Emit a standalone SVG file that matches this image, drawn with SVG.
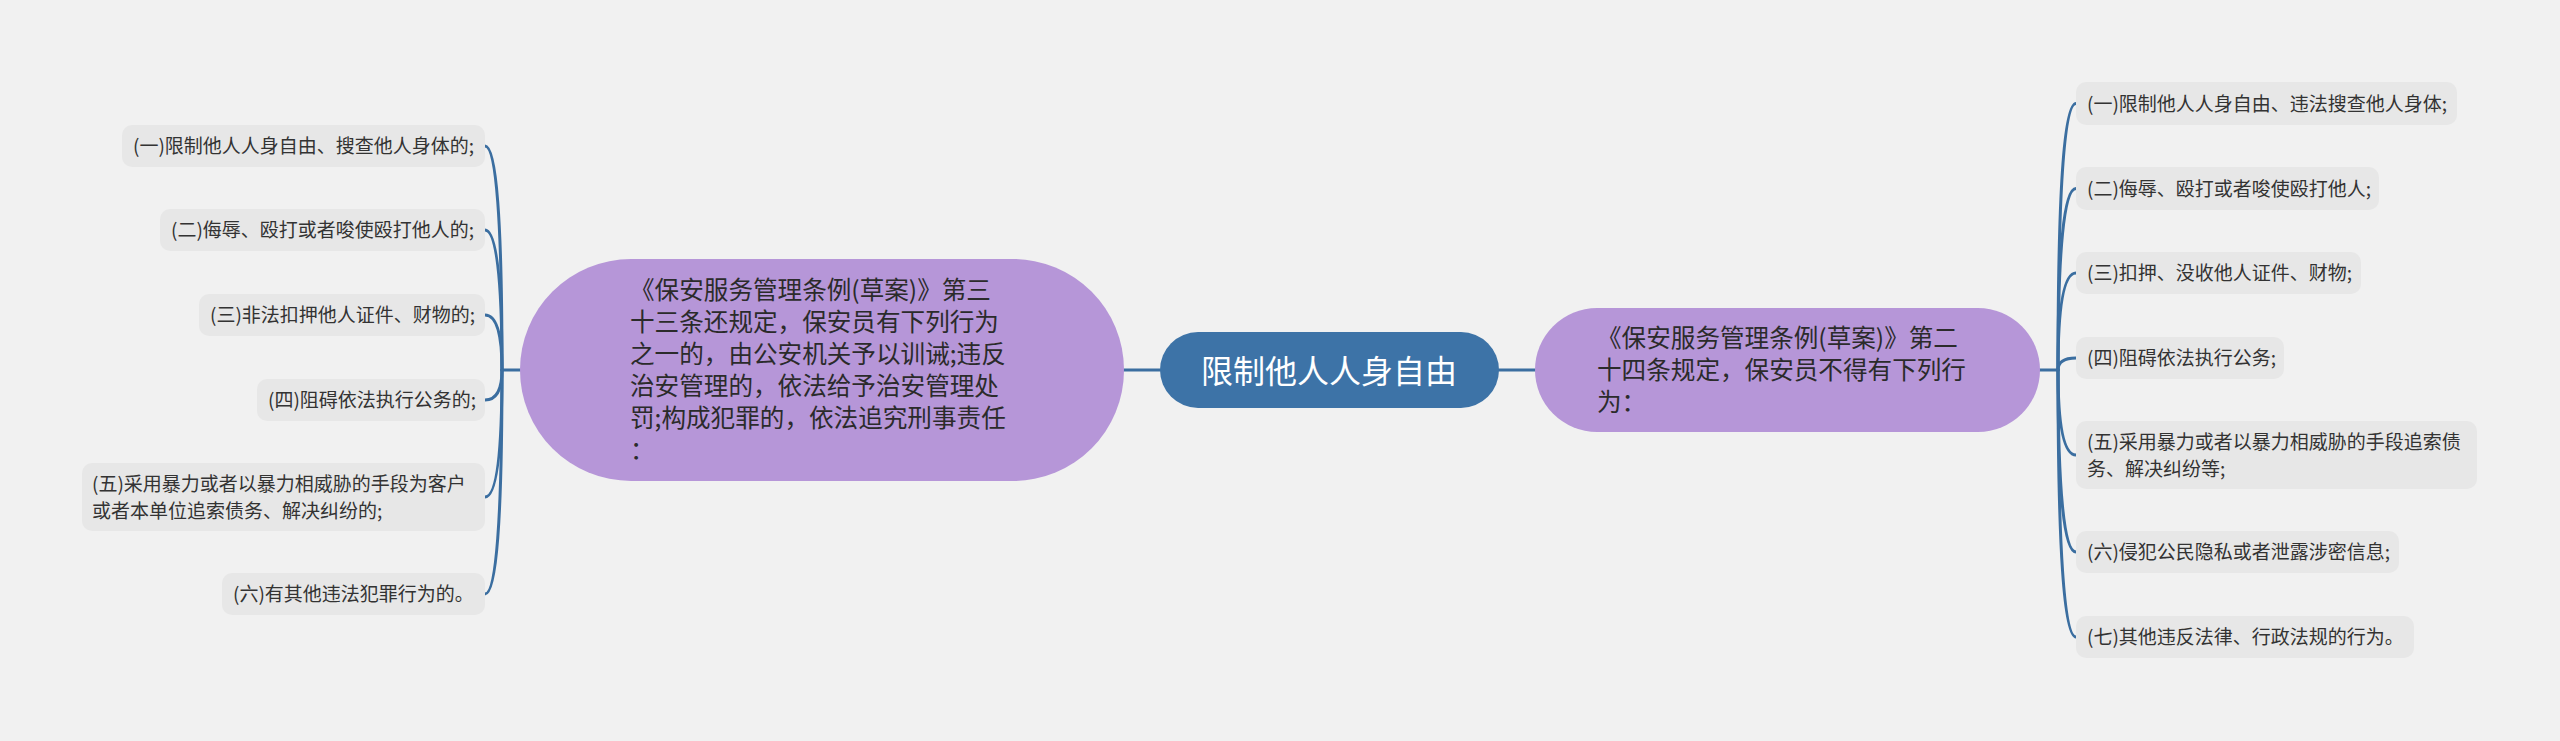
<svg xmlns="http://www.w3.org/2000/svg" width="2560" height="741" viewBox="0 0 2560 741">
<style>
.bg{fill:#f1f1f1}
.leaf rect{fill:#e7e7e7}
.leaf text{font-family:"Noto Sans CJK SC","Microsoft YaHei",sans-serif;font-size:19px;fill:#333333}
.sub rect{fill:#b696d8}
.sub text{font-family:"Noto Sans CJK SC","Microsoft YaHei",sans-serif;font-size:24.6px;fill:#2b2b2b}
.root rect{fill:#3d73a7}
.root text{font-family:"Noto Sans CJK SC","Microsoft YaHei",sans-serif;font-size:32px;fill:#ffffff}
.conn path{fill:none;stroke:#3b6ea0;stroke-width:3;stroke-linecap:round}
</style>
<rect class="bg" x="0" y="0" width="2560" height="741"/>
<g id="connectors" class="conn">
<path d="M1124 370H1160"/>
<path d="M1499 370H1535"/>
<path d="M520 370H502"/>
<path d="M502 370Q502 146 485 146"/>
<path d="M502 370Q502 230 485 230"/>
<path d="M502 370Q502 315 485 315"/>
<path d="M502 370Q502 400 485 400"/>
<path d="M502 370Q502 497 485 497"/>
<path d="M502 370Q502 594 485 594"/>
<path d="M2039 370H2058"/>
<path d="M2058 370Q2058 103.5 2076 103.5"/>
<path d="M2058 370Q2058 188.5 2076 188.5"/>
<path d="M2058 370Q2058 273 2076 273"/>
<path d="M2058 370Q2058 358 2076 358"/>
<path d="M2058 370Q2058 455 2076 455"/>
<path d="M2058 370Q2058 552 2076 552"/>
<path d="M2058 370Q2058 637 2076 637"/>
</g>
<g id="root" class="root">
<rect x="1160" y="332" width="339" height="76" rx="38"/>
<text x="1329" y="382.5" text-anchor="middle">限制他人人身自由</text>
</g>
<g id="left-main" class="sub">
<rect x="520" y="259" width="604" height="222" rx="111"/>
<text x="630" y="299.4">《保安服务管理条例(草案)》第三</text>
<text x="630" y="331.4">十三条还规定，保安员有下列行为</text>
<text x="630" y="363.4">之一的，由公安机关予以训诫;违反</text>
<text x="630" y="395.4">治安管理的，依法给予治安管理处</text>
<text x="630" y="427.4">罚;构成犯罪的，依法追究刑事责任</text>
<text x="630" y="459.4">：</text>
</g>
<g id="right-main" class="sub">
<rect x="1535" y="308" width="505" height="124" rx="62"/>
<text x="1597" y="347.4">《保安服务管理条例(草案)》第二</text>
<text x="1597" y="379.4">十四条规定，保安员不得有下列行</text>
<text x="1597" y="411.4">为：</text>
</g>
<g id="l1" class="leaf"><rect x="122" y="125" width="363" height="42" rx="10"/><text x="133" y="153">(一)限制他人人身自由、搜查他人身体的;</text></g>
<g id="l2" class="leaf"><rect x="160" y="209" width="325" height="42" rx="10"/><text x="171" y="237">(二)侮辱、殴打或者唆使殴打他人的;</text></g>
<g id="l3" class="leaf"><rect x="199" y="294" width="286" height="42" rx="10"/><text x="210" y="322">(三)非法扣押他人证件、财物的;</text></g>
<g id="l4" class="leaf"><rect x="257" y="379" width="228" height="42" rx="10"/><text x="268" y="407">(四)阻碍依法执行公务的;</text></g>
<g id="l5" class="leaf"><rect x="82" y="463" width="403" height="68" rx="10"/><text x="92" y="491">(五)采用暴力或者以暴力相威胁的手段为客户</text><text x="92" y="517.5">或者本单位追索债务、解决纠纷的;</text></g>
<g id="l6" class="leaf"><rect x="222" y="573" width="263" height="42" rx="10"/><text x="233" y="601">(六)有其他违法犯罪行为的。</text></g>
<g id="r1" class="leaf"><rect x="2076" y="82" width="381" height="43" rx="10"/><text x="2087" y="110.7">(一)限制他人人身自由、违法搜查他人身体;</text></g>
<g id="r2" class="leaf"><rect x="2076" y="167" width="303" height="43" rx="10"/><text x="2087" y="195.7">(二)侮辱、殴打或者唆使殴打他人;</text></g>
<g id="r3" class="leaf"><rect x="2076" y="252" width="285" height="42" rx="10"/><text x="2087" y="280.2">(三)扣押、没收他人证件、财物;</text></g>
<g id="r4" class="leaf"><rect x="2076" y="337" width="208" height="42" rx="10"/><text x="2087" y="365.2">(四)阻碍依法执行公务;</text></g>
<g id="r5" class="leaf"><rect x="2076" y="421" width="401" height="68" rx="10"/><text x="2087" y="448.9">(五)采用暴力或者以暴力相威胁的手段追索债</text><text x="2087" y="475.5">务、解决纠纷等;</text></g>
<g id="r6" class="leaf"><rect x="2076" y="531" width="323" height="42" rx="10"/><text x="2087" y="559.2">(六)侵犯公民隐私或者泄露涉密信息;</text></g>
<g id="r7" class="leaf"><rect x="2076" y="616" width="338" height="42" rx="10"/><text x="2087" y="644.2">(七)其他违反法律、行政法规的行为。</text></g>
</svg>
